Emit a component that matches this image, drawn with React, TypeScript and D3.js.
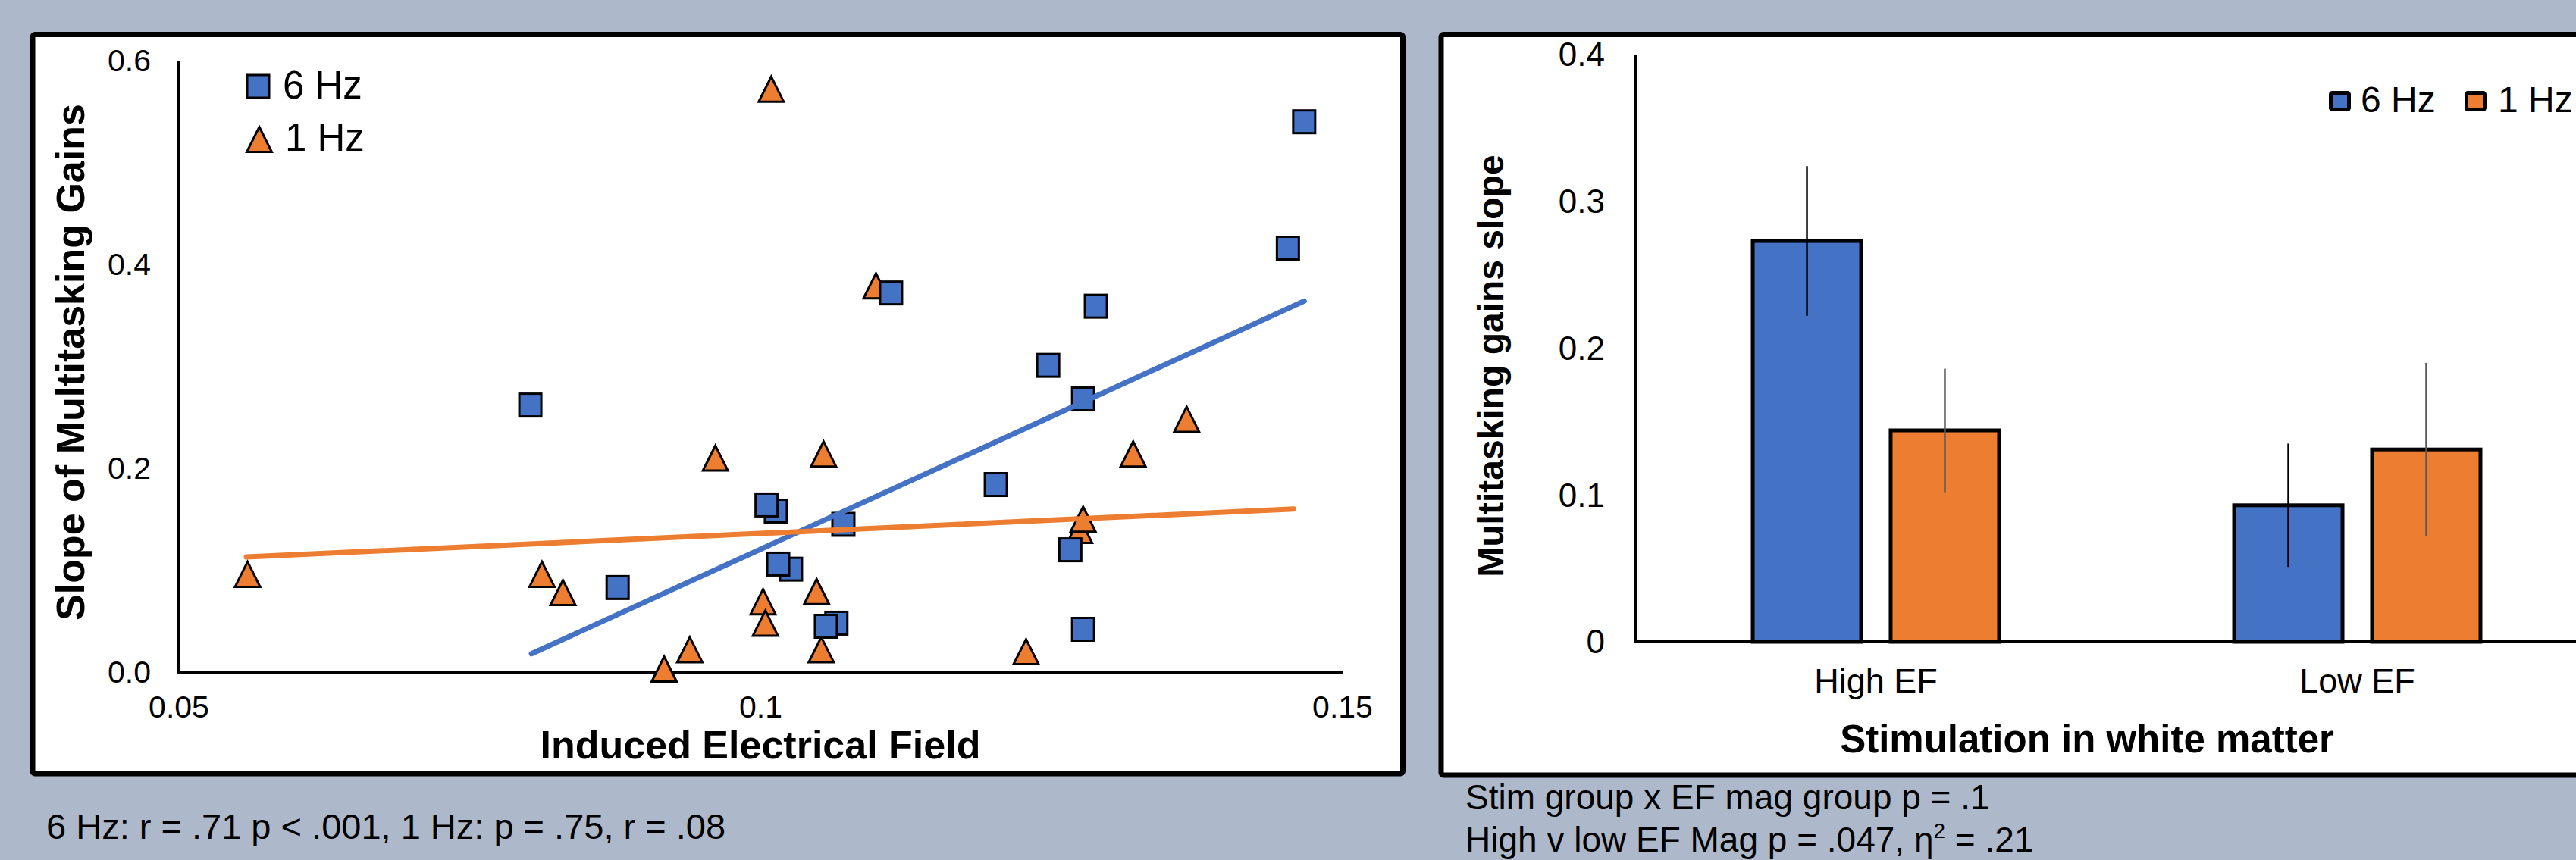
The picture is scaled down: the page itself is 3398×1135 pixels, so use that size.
import React from 'react';
import * as d3 from 'd3';

const W = 3398;
const H = 1135;
const BG = '#adb9ca';
const BLUE = '#4472c4';
const ORANGE = '#ed7d31';
const FONT = '"Liberation Sans", Arial, Helvetica, sans-serif';

// left chart: slope of multitasking gains vs induced electrical field
const sixHzField = [0.0802, 0.0877, 0.1013, 0.1005, 0.1026, 0.1015, 0.1071, 0.1065, 0.1056, 0.1112, 0.1202, 0.1247, 0.1288, 0.1277, 0.1266, 0.1277, 0.1453, 0.1467];
const sixHzSlope = [0.262, 0.083, 0.158, 0.164, 0.101, 0.106, 0.145, 0.048, 0.045, 0.372, 0.184, 0.301, 0.359, 0.268, 0.120, 0.042, 0.416, 0.540];
const oneHzField = [0.0559, 0.0812, 0.0830, 0.0917, 0.0939, 0.0961, 0.1002, 0.1004, 0.1009, 0.1048, 0.1052, 0.1054, 0.1099, 0.1228, 0.1274, 0.1277, 0.1320, 0.1366];
const oneHzSlope = [0.096, 0.096, 0.078, 0.003, 0.022, 0.210, 0.069, 0.048, 0.572, 0.079, 0.022, 0.214, 0.379, 0.020, 0.139, 0.150, 0.214, 0.248];
const sixHzTrend: [number, number][] = [[0.0803, 0.018], [0.1467, 0.364]];
const oneHzTrend: [number, number][] = [[0.0558, 0.113], [0.1458, 0.160]];
const fieldTicks = [0.05, 0.1, 0.15];
const slopeTicks = [0, 0.2, 0.4, 0.6];

// right chart: multitasking gains slope by EF group
const efGroups = ['High EF', 'Low EF'];
const stimGroups = ['6 Hz', '1 Hz'];
const sixHzMeans = [0.273, 0.093];
const sixHzErr = [0.051, 0.042];
const oneHzMeans = [0.144, 0.131];
const oneHzErr = [0.042, 0.059];
const barTicks = [0, 0.1, 0.2, 0.3, 0.4];

const triPath = 'M0,-16.5L16.5,16.5L-16.5,16.5Z';

function Scatter() {
  const x = d3.scaleLinear().domain([0.05, 0.15]).range([236, 1771]);
  const y = d3.scaleLinear().domain([0, 0.6]).range([887, 80]);
  const line = d3.line<[number, number]>().x(d => x(d[0])).y(d => y(d[1]));

  return (
    <g>
      <rect x={43} y={45.5} width={1807.5} height={975.5} rx={3} fill="#fff" stroke="#000" strokeWidth={7} />
      {/* axes */}
      <line x1={x(0.05)} x2={x(0.05)} y1={y(0.6)} y2={y(0) + 2} stroke="#000" strokeWidth={4} />
      <line x1={x(0.05) - 2} x2={x(0.15)} y1={y(0)} y2={y(0)} stroke="#000" strokeWidth={4} />
      {slopeTicks.map(t => (
        <text key={t} x={199} y={y(t)} dy="0.35em" textAnchor="end" fontSize={41} fontFamily={FONT}>
          {d3.format('.1f')(t)}
        </text>
      ))}
      {fieldTicks.map(t => (
        <text key={t} x={x(t)} y={947} textAnchor="middle" fontSize={41} fontFamily={FONT}>
          {String(t)}
        </text>
      ))}
      <text x={1003} y={1001} textAnchor="middle" fontSize={52} fontWeight="bold" fontFamily={FONT}>
        Induced Electrical Field
      </text>
      <text transform="translate(111,478) rotate(-90)" textAnchor="middle" fontSize={52} fontWeight="bold" fontFamily={FONT}>
        Slope of Multitasking Gains
      </text>

      {/* markers */}
      {oneHzField.map((f, i) => (
        <path key={'t' + i} d={triPath} transform={`translate(${x(f)},${y(oneHzSlope[i])})`}
          fill={ORANGE} stroke="#000" strokeWidth={3} strokeLinejoin="miter" />
      ))}
      {sixHzField.map((f, i) => (
        <rect key={'s' + i} x={x(f) - 14.5} y={y(sixHzSlope[i]) - 15} width={29} height={30}
          fill={BLUE} stroke="#000" strokeWidth={3} />
      ))}
      <path d={line(sixHzTrend) || ''} stroke={BLUE} strokeWidth={7} strokeLinecap="round" fill="none" />
      <path d={line(oneHzTrend) || ''} stroke={ORANGE} strokeWidth={7} strokeLinecap="round" fill="none" />

      {/* legend */}
      <rect x={326} y={99} width={29} height={30} fill={BLUE} stroke="#000" strokeWidth={3} />
      <text x={373} y={130} fontSize={51} fontFamily={FONT}>6 Hz</text>
      <path d={triPath} transform="translate(342,184)" fill={ORANGE} stroke="#000" strokeWidth={3} />
      <text x={376} y={199} fontSize={51} fontFamily={FONT}>1 Hz</text>

      <text x={61} y={1107} fontSize={47} fontFamily={FONT}>
        6 Hz: r = .71 p &lt; .001, 1 Hz: p = .75, r = .08
      </text>
    </g>
  );
}

function Bars() {
  const y = d3.scaleLinear().domain([0, 0.4]).range([847, 72]);
  const x0 = d3.scaleBand().domain(efGroups).range([2157, 3427]);
  const x1 = d3.scaleBand().domain(stimGroups).range([0, x0.bandwidth()]).paddingInner(0.214).paddingOuter(0.852);
  const series = [
    { name: stimGroups[0], means: sixHzMeans, errs: sixHzErr, fill: BLUE, errColor: '#000' },
    { name: stimGroups[1], means: oneHzMeans, errs: oneHzErr, fill: ORANGE, errColor: '#5a5a5a' },
  ];

  return (
    <g>
      <rect x={1901} y={45.5} width={1560} height={977.5} rx={3} fill="#fff" stroke="#000" strokeWidth={7} />
      <line x1={2157} x2={2157} y1={y(0.4)} y2={y(0) + 2} stroke="#000" strokeWidth={4} />
      {barTicks.map(t => (
        <text key={t} x={2117} y={y(t)} dy="0.35em" textAnchor="end" fontSize={44} fontFamily={FONT}>
          {t === 0 ? '0' : d3.format('.1f')(t)}
        </text>
      ))}
      {series.map(s =>
        efGroups.map((g, i) => {
          const bx = (x0(g) || 0) + (x1(s.name) || 0);
          return (
            <rect key={s.name + g} x={bx} y={y(s.means[i])} width={x1.bandwidth()} height={y(0) - y(s.means[i])}
              fill={s.fill} stroke="#000" strokeWidth={5} />
          );
        })
      )}
      <line x1={2155} x2={3430} y1={y(0)} y2={y(0)} stroke="#000" strokeWidth={4} />
      {series.map(s =>
        efGroups.map((g, i) => {
          const cx = (x0(g) || 0) + (x1(s.name) || 0) + x1.bandwidth() / 2;
          return (
            <line key={'e' + s.name + g} x1={cx} x2={cx} y1={y(s.means[i] + s.errs[i])} y2={y(s.means[i] - s.errs[i])}
              stroke={s.errColor} strokeWidth={2.5} />
          );
        })
      )}
      {efGroups.map(g => (
        <text key={g} x={(x0(g) || 0) + x0.bandwidth() / 2} y={914} textAnchor="middle" fontSize={45} fontFamily={FONT}>
          {g}
        </text>
      ))}
      <text x={2753} y={993} textAnchor="middle" fontSize={51} fontWeight="bold" fontFamily={FONT}>
        Stimulation in white matter
      </text>
      <text transform="translate(1983,483) rotate(-90)" textAnchor="middle" fontSize={48} fontWeight="bold" fontFamily={FONT}>
        Multitasking gains slope
      </text>

      {/* legend */}
      <rect x={3074.5} y={122.5} width={24} height={22} fill={BLUE} stroke="#000" strokeWidth={5} rx={2} />
      <text x={3114} y={148} fontSize={48} fontFamily={FONT}>6 Hz</text>
      <rect x={3253.5} y={122.5} width={24} height={22} fill={ORANGE} stroke="#000" strokeWidth={5} rx={2} />
      <text x={3295} y={148} fontSize={48} fontFamily={FONT}>1 Hz</text>

      <text x={1933} y={1068} fontSize={46} fontFamily={FONT}>Stim group x EF mag group p = .1</text>
      <text x={1933} y={1124} fontSize={46} fontFamily={FONT}>
        High v low EF Mag p = .047, η<tspan fontSize={28} dy={-18}>2</tspan><tspan dy={18}> = .21</tspan>
      </text>
    </g>
  );
}

export default function App() {
  return (
    <svg width={W} height={H} viewBox={`0 0 ${W} ${H}`}
      style={{ position: 'absolute', left: 0, top: 0, display: 'block' }}>
      <rect width={W} height={H} fill={BG} />
      <Scatter />
      <Bars />
    </svg>
  );
}
